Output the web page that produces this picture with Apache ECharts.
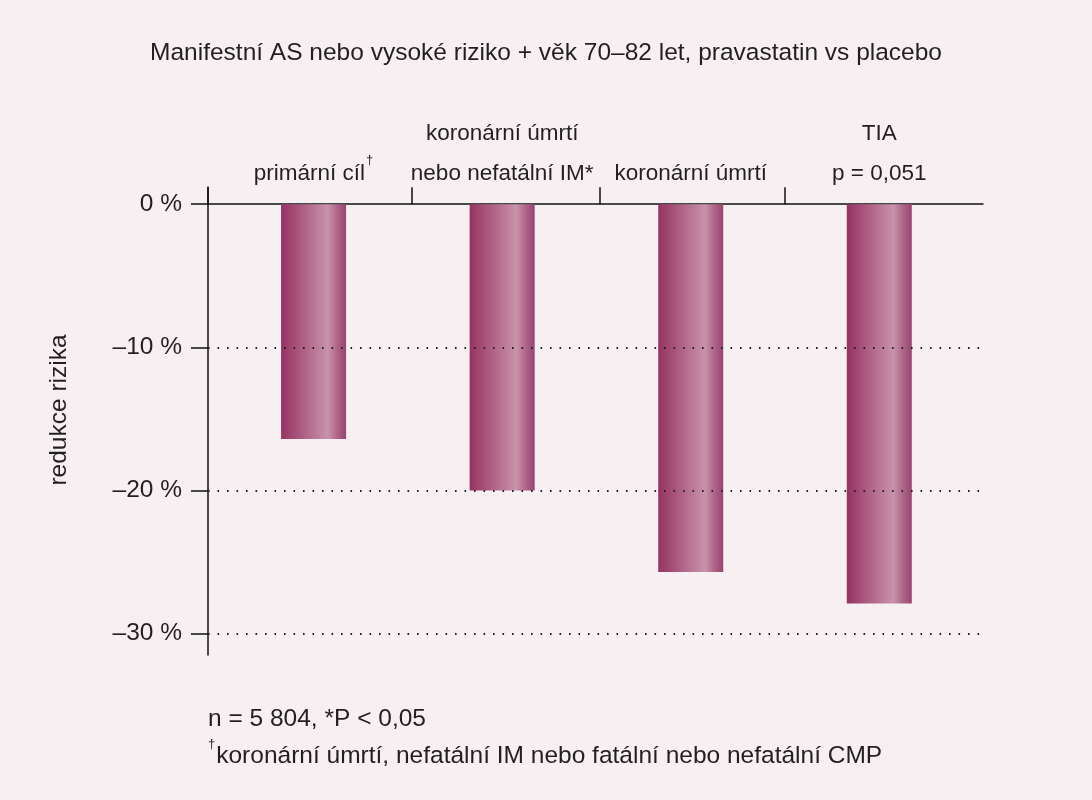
<!DOCTYPE html>
<html>
<head>
<meta charset="utf-8">
<script src="https://cdn.jsdelivr.net/npm/echarts@6/dist/echarts.min.js"></script>
<style>
	html, body { margin: 0; padding: 0; background: #f7f0f3; }
	#chart { width: 1092px; height: 800px; }
</style>
</head>
<body>
<div id="chart"></div>
<script>
// data
const categories = ['primární cíl{sup|†}', 'koronární úmrtí\nnebo nefatální IM*', 'koronární úmrtí', 'TIA\np = 0,051'];
const riskReduction = [-16.4, -20.0, -25.7, -27.9];
const yTicks = [0, -10, -20, -30];
const yTickLabels = ['0 %', '–10 %', '–20 %', '–30 %'];
const gridLines = [-10, -20, -30];
const separators = [-0.56, 0.52, 1.52, 2.5]; // hranice mezi kategoriemi

const FONT = 'Liberation Sans';
const TXT = '#231f20';

const chart = echarts.init(document.getElementById('chart'));
const option = {
	backgroundColor: '#f7f0f3',
	animation: false,
	title: [{
		text: 'Manifestní AS nebo vysoké riziko + věk 70–82 let, pravastatin vs placebo',
		left: 'center',
		top: 36,
		textStyle: { fontFamily: FONT, fontSize: 24.5, fontWeight: 'normal', color: TXT }
	}, {
		text: 'n = 5 804, *P < 0,05\n{sup|†}koronární úmrtí, nefatální IM nebo fatální nebo nefatální CMP',
		left: 203,
		top: 696,
		textStyle: {
			fontFamily: FONT, fontSize: 24.5, fontWeight: 'normal', color: TXT, lineHeight: 37,
			rich: { sup: { fontFamily: FONT, fontSize: 13, color: TXT, verticalAlign: 'top', padding: [0, 1, 12, 0] } }
		}
	}],
	grid: { left: 208, right: 109, top: 187, bottom: 145 },
	xAxis: {
		type: 'value',
		position: 'top',
		min: -0.56,
		max: 3.55,
		splitLine: { show: false },
		axisLine: { show: true, onZero: true, lineStyle: { color: '#111', width: 1.5 } },
		axisTick: { show: true, length: 17, customValues: separators, lineStyle: { color: '#111', width: 1.5 } },
		axisLabel: {
			customValues: [0, 1, 2, 3],
			margin: -7,
			fontFamily: FONT,
			fontSize: 22.5,
			color: TXT,
			lineHeight: 40,
			formatter: function (v) { return categories[Math.round(v)]; },
			rich: { sup: { fontFamily: FONT, fontSize: 13, color: TXT, verticalAlign: 'top', padding: [0, 0, 12, 1] } }
		}
	},
	yAxis: {
		type: 'value',
		min: -31.5,
		max: 1.2,
		name: 'redukce rizika',
		nameLocation: 'middle',
		nameRotate: 90,
		nameGap: 136,
		nameTextStyle: { fontFamily: FONT, fontSize: 24.5, color: TXT, padding: [0, 0, 0, 22] },
		splitLine: { show: false },
		axisLine: { show: true, onZero: false, lineStyle: { color: '#111', width: 1.5 } },
		axisTick: { show: true, length: 17, customValues: yTicks, lineStyle: { color: '#111', width: 1.5 } },
		axisLabel: {
			customValues: yTicks,
			margin: 26,
			fontFamily: FONT,
			fontSize: 24.5,
			color: TXT,
			formatter: function (v) { return yTickLabels[yTicks.indexOf(Math.round(v))]; }
		}
	},
	series: [{
		type: 'bar',
		barWidth: 65,
		data: riskReduction.map(function (v, i) { return [i, v]; }),
		itemStyle: {
			color: {
				type: 'linear', x: 0, y: 0, x2: 1, y2: 0,
				colorStops: [
					{ offset: 0, color: '#963262' },
					{ offset: 0.72, color: '#c993ab' },
					{ offset: 0.86, color: '#ae668a' },
					{ offset: 1, color: '#9a4370' }
				]
			}
		},
		markLine: {
			silent: true,
			symbol: 'none',
			label: { show: false },
			lineStyle: { type: [1.6, 7.9], color: '#222', width: 1.8 },
			data: gridLines.map(function (v) { return { yAxis: v }; })
		}
	}]
};
chart.setOption(option);
</script>
</body>
</html>
